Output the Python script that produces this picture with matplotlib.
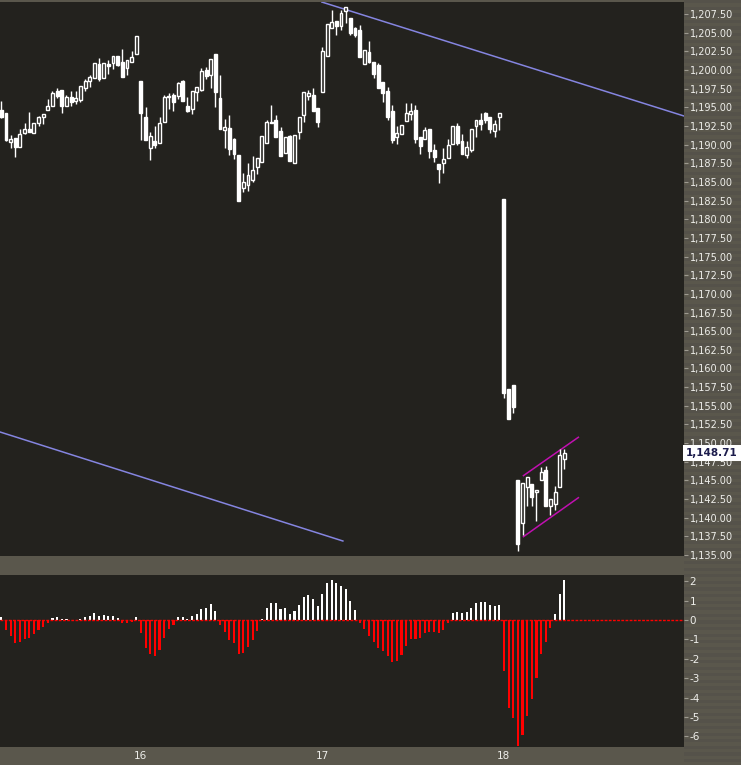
import numpy as np
import matplotlib.pyplot as plt
import matplotlib.transforms as mtransforms

plt.rcParams["axes.unicode_minus"] = False

# 10-minute candles
opens = [1194.64, 1194.19, 1190.39, 1190.88, 1189.73, 1191.51, 1192.05, 1191.60, 1192.94, 1193.75,
         1194.68, 1195.22, 1197.18, 1197.32, 1195.22, 1196.34, 1195.89, 1196.02, 1197.63, 1198.57,
         1198.97, 1200.80, 1198.97, 1200.80, 1200.98, 1201.88, 1201.07, 1200.31, 1201.12, 1202.10,
         1198.53, 1193.70, 1189.59, 1190.44, 1190.26, 1193.08, 1196.51, 1196.65, 1196.56, 1198.53,
         1195.18, 1194.82, 1197.10, 1197.32, 1200.00, 1199.37, 1202.14, 1196.20, 1192.00, 1192.23,
         1190.71, 1188.61, 1184.23, 1184.59, 1185.21, 1187.05, 1187.71, 1190.26, 1193.03, 1193.30,
         1191.82, 1188.92, 1191.16, 1187.49, 1191.73, 1193.92, 1196.56, 1196.65, 1194.91, 1197.10,
         1201.87, 1205.58, 1206.57, 1205.90, 1207.90, 1206.92, 1205.58, 1205.36, 1200.76, 1202.37,
         1201.03, 1200.67, 1198.44, 1197.23, 1194.55, 1191.07, 1191.36, 1193.21, 1194.15, 1194.64,
         1191.07, 1190.71, 1192.10, 1189.28, 1187.40, 1187.58, 1188.16, 1190.03, 1192.49, 1190.48,
         1188.61, 1189.28, 1192.54, 1193.30, 1194.19, 1193.70, 1191.86, 1193.75, 1182.70, 1157.25,
         1157.78, 1145.05, 1139.24, 1144.07, 1144.47, 1143.40, 1145.05, 1146.39, 1141.61, 1141.79,
         1144.16, 1147.90]
highs = [1195.85, 1194.30, 1191.29, 1190.95, 1192.05, 1192.85, 1194.37, 1192.85, 1193.88, 1194.06,
         1196.11, 1197.23, 1197.54, 1197.35, 1196.65, 1197.18, 1197.18, 1197.85, 1198.79, 1199.28,
         1200.94, 1201.56, 1200.94, 1201.34, 1201.88, 1201.90, 1202.81, 1201.29, 1202.55, 1204.55,
         1198.53, 1195.04, 1191.74, 1192.50, 1193.75, 1196.60, 1196.87, 1196.87, 1198.39, 1198.60,
         1196.43, 1197.18, 1197.68, 1200.22, 1200.40, 1201.43, 1202.14, 1199.33, 1193.43, 1193.97,
         1190.88, 1188.61, 1186.20, 1187.49, 1188.48, 1188.20, 1191.16, 1193.30, 1195.30, 1193.97,
         1192.41, 1191.00, 1191.29, 1191.29, 1193.66, 1197.01, 1197.32, 1197.54, 1194.91, 1203.13,
         1206.12, 1208.04, 1206.57, 1208.04, 1208.40, 1206.92, 1205.80, 1206.03, 1202.68, 1203.88,
         1201.10, 1200.89, 1198.44, 1197.68, 1195.31, 1192.50, 1192.63, 1195.53, 1195.53, 1195.31,
         1191.07, 1192.41, 1192.10, 1190.08, 1187.40, 1189.50, 1190.80, 1192.49, 1192.85, 1191.42,
         1190.48, 1192.04, 1193.30, 1194.28, 1194.41, 1193.70, 1193.30, 1194.19, 1182.70, 1157.25,
         1157.78, 1145.05, 1144.60, 1145.41, 1144.47, 1143.70, 1146.75, 1146.97, 1142.50, 1144.25,
         1149.16, 1149.16]
lows = [1193.61, 1190.50, 1189.59, 1188.39, 1189.70, 1191.45, 1191.70, 1191.55, 1192.49, 1192.76,
        1194.60, 1195.20, 1196.29, 1194.28, 1195.20, 1195.18, 1195.49, 1195.76, 1197.23, 1197.77,
        1198.95, 1198.57, 1198.95, 1199.46, 1200.18, 1200.53, 1199.11, 1199.33, 1201.10, 1202.10,
        1190.62, 1190.62, 1187.94, 1189.59, 1190.26, 1193.08, 1194.77, 1194.50, 1196.16, 1195.80,
        1194.37, 1194.15, 1195.85, 1197.18, 1198.84, 1197.63, 1195.09, 1192.14, 1189.59, 1188.61,
        1188.12, 1182.44, 1183.70, 1183.83, 1185.00, 1186.02, 1187.71, 1190.26, 1192.94, 1191.00,
        1188.52, 1188.90, 1187.85, 1187.49, 1190.71, 1193.07, 1195.98, 1194.50, 1192.41, 1197.10,
        1201.87, 1205.58, 1204.69, 1205.36, 1206.25, 1204.69, 1204.40, 1201.79, 1200.76, 1200.89,
        1198.97, 1197.63, 1195.76, 1193.30, 1190.26, 1190.08, 1191.36, 1193.21, 1193.30, 1190.26,
        1188.74, 1190.71, 1188.16, 1187.72, 1184.90, 1186.15, 1188.16, 1190.03, 1189.94, 1188.74,
        1188.25, 1189.05, 1190.97, 1191.95, 1192.85, 1191.60, 1191.06, 1191.95, 1155.99, 1153.27,
        1154.07, 1135.58, 1137.70, 1141.60, 1141.56, 1139.60, 1145.05, 1141.61, 1140.36, 1141.03,
        1144.16, 1146.48]
closes = [1193.75, 1190.62, 1190.75, 1189.73, 1191.42, 1192.05, 1191.74, 1192.85, 1193.75, 1194.06,
          1195.18, 1196.87, 1196.51, 1195.18, 1196.38, 1195.71, 1196.20, 1197.85, 1198.53, 1199.02,
          1200.94, 1198.79, 1200.94, 1200.58, 1201.88, 1200.67, 1199.11, 1201.29, 1201.70, 1204.55,
          1194.28, 1190.62, 1191.16, 1189.95, 1192.85, 1196.38, 1196.38, 1195.76, 1198.26, 1195.85,
          1194.50, 1197.18, 1197.68, 1199.87, 1199.20, 1201.43, 1197.10, 1192.14, 1192.36, 1189.46,
          1188.74, 1182.44, 1184.94, 1185.93, 1186.60, 1188.16, 1191.16, 1193.03, 1192.94, 1191.07,
          1188.52, 1190.97, 1187.85, 1191.29, 1193.66, 1197.01, 1196.92, 1194.50, 1193.07, 1202.54,
          1206.12, 1206.48, 1205.94, 1207.59, 1208.40, 1204.91, 1204.69, 1201.79, 1202.68, 1201.12,
          1199.46, 1197.63, 1196.96, 1193.75, 1190.62, 1191.51, 1192.63, 1194.19, 1194.50, 1190.71,
          1189.86, 1191.96, 1189.19, 1188.39, 1186.69, 1188.03, 1189.90, 1192.49, 1190.17, 1188.74,
          1189.68, 1192.04, 1193.30, 1192.72, 1193.30, 1192.09, 1192.76, 1194.19, 1156.75, 1153.27,
          1154.88, 1136.47, 1144.60, 1145.41, 1142.73, 1143.70, 1146.08, 1141.61, 1142.50, 1143.49,
          1148.40, 1148.71]

# oscillator in the lower panel
osc = [0.15, -0.50, -0.84, -1.17, -1.12, -0.98, -0.91, -0.71, -0.50, -0.34,
       -0.14, 0.10, 0.15, 0.05, 0.05, 0.02, 0.02, 0.05, 0.15, 0.20,
       0.36, 0.20, 0.26, 0.20, 0.20, 0.10, -0.14, -0.14, -0.09, 0.15,
       -0.65, -1.43, -1.74, -1.84, -1.53, -0.91, -0.45, -0.26, 0.15, 0.15,
       0.03, 0.20, 0.31, 0.57, 0.62, 0.83, 0.46, -0.26, -0.60, -1.02,
       -1.17, -1.74, -1.69, -1.38, -1.02, -0.55, 0.05, 0.62, 0.88, 0.88,
       0.57, 0.62, 0.31, 0.46, 0.77, 1.19, 1.29, 1.08, 0.72, 1.34,
       1.91, 2.07, 1.91, 1.76, 1.60, 0.98, 0.52, -0.14, -0.45, -0.81,
       -1.12, -1.43, -1.58, -1.84, -2.15, -2.10, -1.81, -1.33, -0.96, -0.96,
       -0.91, -0.65, -0.60, -0.60, -0.65, -0.50, -0.14, 0.36, 0.41, 0.36,
       0.41, 0.62, 0.88, 0.93, 0.93, 0.77, 0.72, 0.77, -2.62, -4.53,
       -5.04, -6.49, -5.92, -4.94, -4.06, -2.98, -1.74, -1.12, -0.40, 0.31,
       1.34, 2.07]

day_labels = ["16", "17", "18"]
day_starts = [30, 69, 108]          # first bar of each session
last_price = 1148.71

# drawn lines: (bar, price) end points
blue_top = [(68.9, 1209.10), (146.7, 1193.83)]
blue_bottom = [(-0.28, 1151.49), (73.4, 1136.88)]
pink_top = [(112.2, 1145.64), (124.0, 1150.78)]
pink_bottom = [(112.2, 1137.46), (124.0, 1142.68)]

bg = "#23221e"
grey = "#5a574c"
txt = "#eeeeea"

W, H = 741, 765
fig = plt.figure(figsize=(W / 100, H / 100), dpi=100, facecolor=grey)

# finely striped background behind the right-hand scales
strip = fig.add_axes([684 / W, 0, 57 / W, 1])
strip.set_xlim(0, 1)
strip.set_ylim(H, 0)
strip.axis("off")
for y0 in np.arange(0, H, 6.6):
    strip.axhspan(y0, y0 + 3.3, color="#55524a", lw=0)

x = np.arange(len(opens))
o = np.array(opens)
h = np.array(highs)
l = np.array(lows)
c = np.array(closes)
up = c >= o

ax = fig.add_axes([0, 1 - 556 / H, 684 / W, 554 / H])
ax.set_facecolor(bg)
ax.vlines(x, l, h, color="white", lw=1, zorder=2)
ax.bar(x, np.maximum(np.abs(c - o), 0.05), bottom=np.minimum(o, c), width=0.62,
       color=np.where(up, bg, "white"), edgecolor="white", linewidth=1, zorder=3)

for (x0, y0), (x1, y1) in [blue_top, blue_bottom]:
    ax.plot([x0, x1], [y0, y1], color="#8585e0", lw=1.1, zorder=1)
for (x0, y0), (x1, y1) in [pink_top, pink_bottom]:
    ax.plot([x0, x1], [y0, y1], color="#c010b0", lw=1.1, zorder=1)

ax.set_xlim(-0.28, 146.7)
ax.set_ylim(1134.87, 1209.11)
ax.yaxis.tick_right()
ax.set_yticks(np.arange(1135, 1208, 2.5))
ax.set_yticklabels([f"{v:,.2f}" for v in np.arange(1135, 1208, 2.5)])
ax.tick_params(axis="y", colors="#9d9a90", labelcolor=txt, labelsize=7, length=3, pad=1)
ax.set_xticks([])
for s in ax.spines.values():
    s.set_visible(False)

trans = mtransforms.blended_transform_factory(ax.transAxes, ax.transData)
ax.text(1.003, last_price, f"{last_price:,.2f}", transform=trans, ha="left", va="center",
        fontsize=7.5, fontweight="bold", color="#1c1c4c", zorder=10, clip_on=False,
        bbox=dict(boxstyle="square,pad=0.3", fc="white", ec="none"))

# oscillator panel
ax2 = fig.add_axes([0, 1 - 747 / H, 684 / W, 172 / H])
ax2.set_facecolor(bg)
v = np.array(osc)
ax2.bar(x, v, width=0.45, color=np.where(v >= 0, "white", "#ff0000"), lw=0)
ax2.axhline(0, color="#ff0000", lw=1, ls=(0, (2, 1)))
ax2.set_xlim(-0.28, 146.7)
ax2.set_ylim(-6.55, 2.32)
ax2.yaxis.tick_right()
ax2.set_yticks(range(-6, 3))
ax2.tick_params(axis="y", colors="#9d9a90", labelcolor=txt, labelsize=7.5, length=3, pad=1)
ax2.set_xticks(day_starts)
ax2.set_xticklabels(day_labels)
ax2.tick_params(axis="x", labelcolor=txt, labelsize=7.5, length=0, pad=3)
for s in ax2.spines.values():
    s.set_visible(False)

plt.savefig("out.png", dpi=100, facecolor=grey)
